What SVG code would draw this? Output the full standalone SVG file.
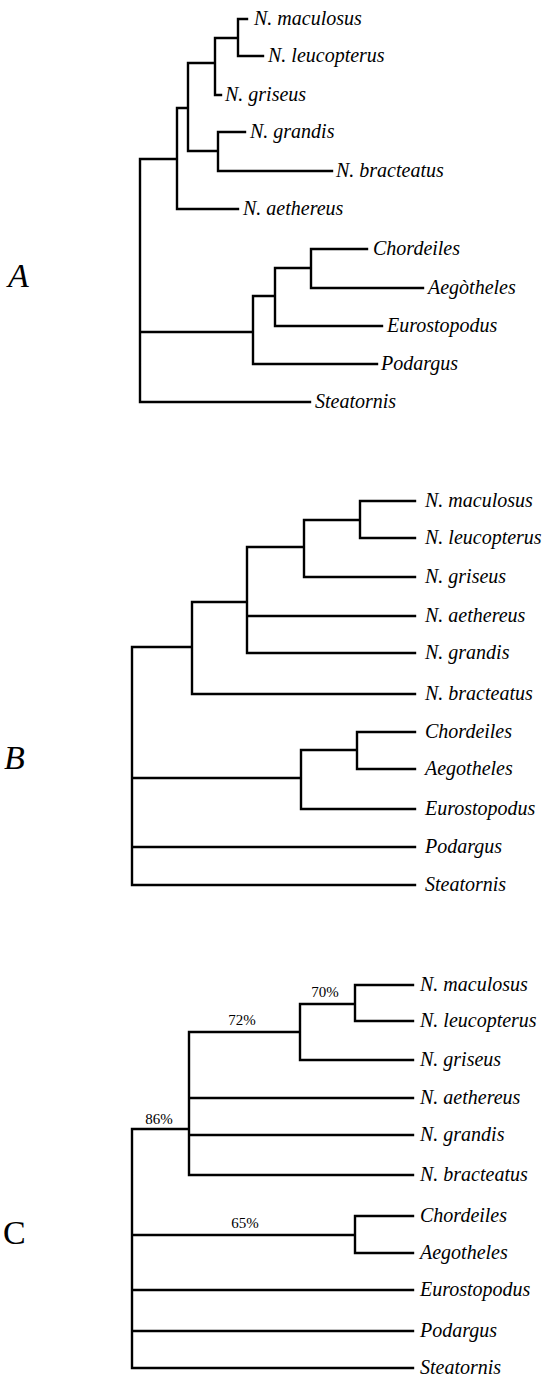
<svg xmlns="http://www.w3.org/2000/svg" width="543" height="1376" viewBox="0 0 543 1376">
<style>
.e{fill:none;stroke:#000;stroke-width:2.4;stroke-linecap:square}
.t{font-family:"Liberation Serif",serif;font-style:italic;font-size:20px;fill:#000}
.p{font-family:"Liberation Serif",serif;font-size:15px;fill:#000;text-anchor:middle}
.L{font-family:"Liberation Serif",serif;font-size:34px;fill:#000}
</style>
<rect width="543" height="1376" fill="#fff"/>
<g id="connectors">
<!-- Panel A -->
<path class="e" d="M140 159V402M140 159H177M177 108V209M177 108H188M177 209H238M188 63V151M188 63H215M188 151H218M215 38V95M215 38H238M215 95H221M238 19V56M238 19H247M238 56H263M218 132V171M218 132H245M218 171H332M140 332H253M253 296V364M253 296H275M253 364H377M275 268V326M275 268H311M275 326H382M311 249V288M311 249H367M311 288H423M140 402H310"/>
<!-- Panel B -->
<path class="e" d="M132 647V885M132 647H192M192 602V694M192 602H247M192 694H415M247 547V653M247 547H304M247 616H415M247 653H415M304 520V577M304 520H360M304 577H415M360 501V538M360 501H415M360 538H415M132 778H301M301 750V809M301 750H357M301 809H415M357 732V769M357 732H415M357 769H415M132 847H415M132 885H415"/>
<!-- Panel C -->
<path class="e" d="M132 1129V1368M132 1129H189M189 1032V1175M189 1032H300M189 1098H413M189 1135H413M189 1175H413M300 1004V1060M300 1004H355M300 1060H413M355 985V1021M355 985H413M355 1021H413M132 1235H355M355 1216V1253M355 1216H413M355 1253H413M132 1290H413M132 1331H413M132 1368H413"/>
</g>
<g id="panelA">
<text class="L" x="8" y="287" font-style="italic">A</text>
<g id="A-maculosus"><text class="t" x="254" y="25">N. maculosus</text></g>
<g id="A-leucopterus"><text class="t" x="268" y="62">N. leucopterus</text></g>
<g id="A-griseus"><text class="t" x="225" y="101">N. griseus</text></g>
<g id="A-grandis"><text class="t" x="250" y="138">N. grandis</text></g>
<g id="A-bracteatus"><text class="t" x="336" y="177">N. bracteatus</text></g>
<g id="A-aethereus"><text class="t" x="243" y="215">N. aethereus</text></g>
<g id="A-chordeiles"><text class="t" x="373" y="255">Chordeiles</text></g>
<g id="A-aegotheles"><text class="t" x="428" y="294">Aegòtheles</text></g>
<g id="A-eurostopodus"><text class="t" x="387" y="332">Eurostopodus</text></g>
<g id="A-podargus"><text class="t" x="381" y="370">Podargus</text></g>
<g id="A-steatornis"><text class="t" x="315" y="408">Steatornis</text></g>
</g>
<g id="panelB">
<text class="L" x="4" y="769" font-style="italic">B</text>
<g id="B-maculosus"><text class="t" x="425" y="507">N. maculosus</text></g>
<g id="B-leucopterus"><text class="t" x="425" y="544">N. leucopterus</text></g>
<g id="B-griseus"><text class="t" x="425" y="583">N. griseus</text></g>
<g id="B-aethereus"><text class="t" x="425" y="622">N. aethereus</text></g>
<g id="B-grandis"><text class="t" x="425" y="659">N. grandis</text></g>
<g id="B-bracteatus"><text class="t" x="425" y="700">N. bracteatus</text></g>
<g id="B-chordeiles"><text class="t" x="425" y="738">Chordeiles</text></g>
<g id="B-aegotheles"><text class="t" x="425" y="775">Aegotheles</text></g>
<g id="B-eurostopodus"><text class="t" x="425" y="815">Eurostopodus</text></g>
<g id="B-podargus"><text class="t" x="425" y="853">Podargus</text></g>
<g id="B-steatornis"><text class="t" x="425" y="891">Steatornis</text></g>
</g>
<g id="panelC">
<text class="L" x="3" y="1244">C</text>
<g id="C-maculosus"><text class="t" x="420" y="991">N. maculosus</text></g>
<g id="C-leucopterus"><text class="t" x="420" y="1027">N. leucopterus</text></g>
<g id="C-griseus"><text class="t" x="420" y="1066">N. griseus</text></g>
<g id="C-aethereus"><text class="t" x="420" y="1104">N. aethereus</text></g>
<g id="C-grandis"><text class="t" x="420" y="1141">N. grandis</text></g>
<g id="C-bracteatus"><text class="t" x="420" y="1181">N. bracteatus</text></g>
<g id="C-chordeiles"><text class="t" x="420" y="1222">Chordeiles</text></g>
<g id="C-aegotheles"><text class="t" x="420" y="1259">Aegotheles</text></g>
<g id="C-eurostopodus"><text class="t" x="420" y="1296">Eurostopodus</text></g>
<g id="C-podargus"><text class="t" x="420" y="1337">Podargus</text></g>
<g id="C-steatornis"><text class="t" x="420" y="1374">Steatornis</text></g>
<text class="p" x="325" y="997">70%</text>
<text class="p" x="242" y="1025">72%</text>
<text class="p" x="159" y="1124">86%</text>
<text class="p" x="245" y="1228">65%</text>
</g>
</svg>
